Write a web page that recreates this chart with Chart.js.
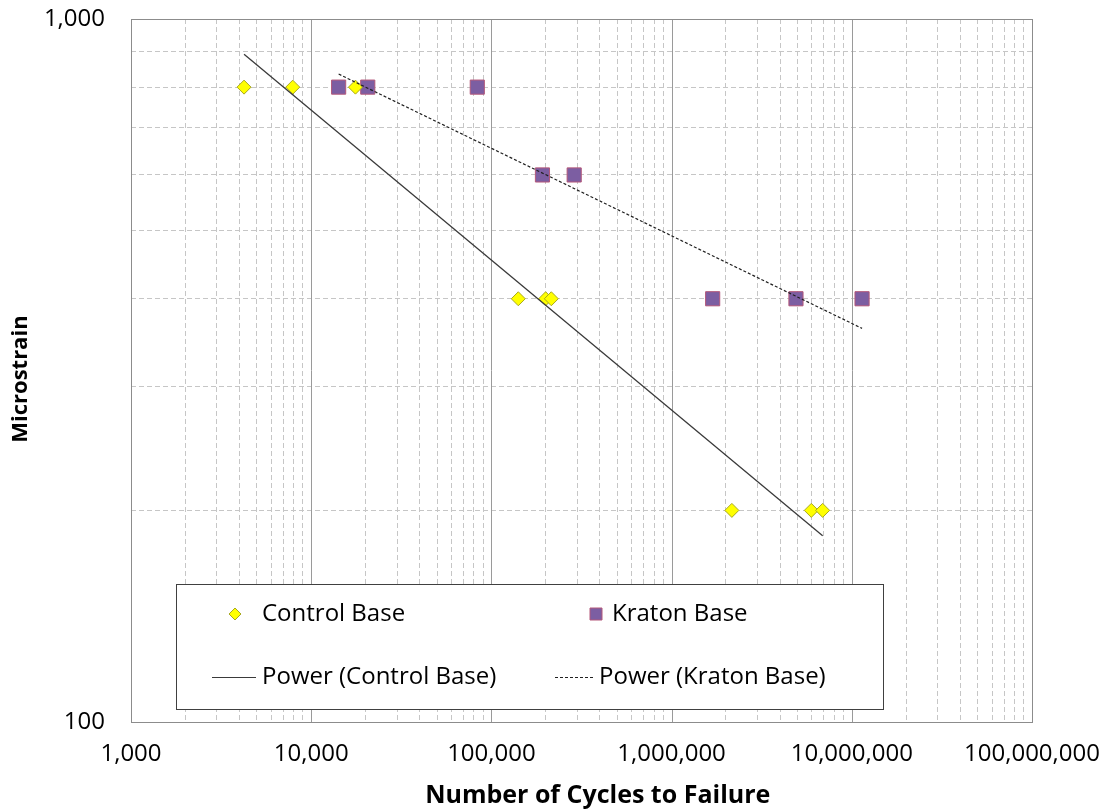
<!DOCTYPE html>
<html>
<head>
<meta charset="utf-8">
<script src="https://cdn.jsdelivr.net/npm/chart.js@4.4.1/dist/chart.umd.min.js"></script>
<style>
  html, body { margin: 0; padding: 0; background: #fff; }
  #wrap { width: 1105px; height: 811px; }
</style>
</head>
<body>
<div id="wrap"><canvas id="fatigueChart" width="1105" height="811"></canvas></div>
<script>
// Fatigue data (cycles, microstrain)
const controlCycles = [4240, 7900, 17600, 141000, 200000, 215000, 2160000, 5960000, 6890000];
const controlStrain = [800, 800, 800, 400, 400, 400, 200, 200, 200];

const kratonCycles = [14200, 20600, 83500, 192000, 288000, 1690000, 4900000, 11400000];
const kratonStrain = [800, 800, 800, 600, 600, 400, 400, 400];

// Power trendline endpoints as drawn in the chart
const controlFitCycles = [4240, 6890000];
const controlFitStrain = [891, 184];
const kratonFitCycles = [14200, 11400000];
const kratonFitStrain = [835, 363];

// Axis ranges / labelled decades
const xDecades = [1000, 10000, 100000, 1000000, 10000000, 100000000];
const yDecades = [100, 1000];

const FONT = "'Open Sans', 'Liberation Sans', sans-serif";

function toPoints(xs, ys) {
  return xs.map((x, i) => ({ x: x, y: ys[i] }));
}

// 1..9 x each decade, used for the minor grid
function logGridValues(decades) {
  const vals = [];
  for (let d = 0; d < decades.length - 1; d++) {
    for (let m = 1; m <= 9; m++) vals.push(decades[d] * m);
  }
  vals.push(decades[decades.length - 1]);
  return vals;
}

function isDecade(v) {
  const l = Math.log10(v);
  return Math.abs(l - Math.round(l)) < 1e-9;
}

const gridColor = (ctx) => (ctx.tick && isDecade(ctx.tick.value)) ? 'rgba(0,0,0,0)' : '#c6c6c6';

// solid decade lines + plot frame
const frameLines = {
  id: 'frameLines',
  beforeDatasetsDraw(chart) {
    const { ctx, chartArea: a, scales } = chart;
    ctx.save();
    ctx.strokeStyle = '#9a9a9a';
    ctx.lineWidth = 1;
    xDecades.forEach(v => {
      const px = Math.round(scales.x.getPixelForValue(v)) + 0.5;
      ctx.beginPath();
      ctx.moveTo(px, a.top);
      ctx.lineTo(px, a.bottom);
      ctx.stroke();
    });
    ctx.strokeStyle = '#8c8c8c';
    ctx.strokeRect(Math.round(a.left) + 0.5, Math.round(a.top) + 0.5,
      Math.round(a.right - a.left), Math.round(a.bottom - a.top));
    ctx.restore();
  }
};

// boxed legend sitting inside the plot, like the original
const boxLegend = {
  id: 'boxLegend',
  afterDatasetsDraw(chart) {
    const { ctx, chartArea: a } = chart;
    const ds = chart.data.datasets;
    const left = a.left + 45, top = a.bottom - 138, w = 707, h = 125;
    ctx.save();
    ctx.fillStyle = '#ffffff';
    ctx.fillRect(left, top, w, h);
    ctx.strokeStyle = '#404040';
    ctx.lineWidth = 1;
    ctx.strokeRect(left + 0.5, top + 0.5, w, h);

    ctx.font = '24px ' + FONT;
    ctx.fillStyle = '#000';
    ctx.textBaseline = 'middle';
    const row1 = top + 30, row2 = top + 93;
    const col1 = left, col2 = left + 360;

    const entries = [
      { d: ds[0], x: col1, y: row1 },
      { d: ds[1], x: col2, y: row1 },
      { d: ds[2], x: col1, y: row2 },
      { d: ds[3], x: col2, y: row2 }
    ];
    entries.forEach(e => {
      const d = e.d;
      if (d.showLine) {
        const dashed = !!d.borderDash;
        ctx.save();
        ctx.strokeStyle = d.borderColor;
        ctx.lineWidth = 1;
        ctx.setLineDash(d.borderDash || []);
        ctx.beginPath();
        ctx.moveTo(e.x + (dashed ? 19 : 36), e.y + 0.5);
        ctx.lineTo(e.x + (dashed ? 58 : 80), e.y + 0.5);
        ctx.stroke();
        ctx.restore();
        ctx.fillText(d.label, e.x + (dashed ? 63 : 86), e.y);
      } else {
        const isRect = d.pointStyle === 'rect';
        const cx = e.x + (isRect ? 60 : 59);
        ctx.save();
        ctx.fillStyle = d.backgroundColor;
        ctx.strokeStyle = d.borderColor;
        ctx.lineWidth = 1;
        ctx.beginPath();
        if (isRect) {
          const s = 6;
          ctx.rect(cx - s, e.y - s, 2 * s, 2 * s);
        } else {
          const r = 6;
          ctx.moveTo(cx, e.y - r);
          ctx.lineTo(cx + r, e.y);
          ctx.lineTo(cx, e.y + r);
          ctx.lineTo(cx - r, e.y);
          ctx.closePath();
        }
        ctx.fill();
        ctx.stroke();
        ctx.restore();
        ctx.fillText(d.label, e.x + (isRect ? 76 : 86), e.y);
      }
    });
    ctx.restore();
  }
};

const xGrid = logGridValues(xDecades);
const yGrid = logGridValues(yDecades);

new Chart(document.getElementById('fatigueChart'), {
  type: 'scatter',
  data: {
    datasets: [
      {
        label: 'Control Base',
        data: toPoints(controlCycles, controlStrain),
        pointStyle: 'rectRot',
        pointRadius: 7,
        backgroundColor: '#ffff00',
        borderColor: '#a8a820',
        borderWidth: 1,
        order: 1
      },
      {
        label: 'Kraton Base',
        data: toPoints(kratonCycles, kratonStrain),
        pointStyle: 'rect',
        pointRadius: 10,
        backgroundColor: '#7c5ea2',
        borderColor: '#b4587a',
        borderWidth: 1,
        order: 2
      },
      {
        label: 'Power (Control Base)',
        data: toPoints(controlFitCycles, controlFitStrain),
        showLine: true,
        pointRadius: 0,
        borderColor: '#3a3a3a',
        borderWidth: 1.3,
        order: 0
      },
      {
        label: 'Power (Kraton Base)',
        data: toPoints(kratonFitCycles, kratonFitStrain),
        showLine: true,
        pointRadius: 0,
        borderColor: '#202020',
        borderWidth: 1.2,
        borderDash: [3, 2],
        order: 0
      }
    ]
  },
  options: {
    responsive: false,
    animation: false,
    layout: { padding: { top: 19, right: 73, bottom: 0, left: 0 } },
    plugins: {
      legend: { display: false },
      tooltip: { enabled: false }
    },
    scales: {
      x: {
        type: 'logarithmic',
        min: 1000,
        max: 100000000,
        afterBuildTicks: (scale) => { scale.ticks = xGrid.map(v => ({ value: v })); },
        afterFit: (scale) => {
          scale.height = 89;
          scale.paddingLeft = 0;
          scale.paddingRight = 0;
        },
        grid: { color: gridColor, drawTicks: false, lineWidth: 1 },
        border: { display: false, dash: [5, 3] },
        ticks: {
          autoSkip: false,
          maxRotation: 0,
          padding: 18,
          color: '#000',
          font: { family: FONT, size: 24 },
          callback: (v) => isDecade(v) ? Number(v).toLocaleString('en-US') : ''
        },
        title: {
          display: true,
          // leading spaces nudge the title right, as in the original
          text: '\u00a0\u00a0\u00a0\u00a0\u00a0Number of Cycles to Failure',
          color: '#000',
          padding: { top: 0, bottom: 0 },
          font: { family: FONT, size: 25, weight: 'bold' }
        }
      },
      y: {
        type: 'logarithmic',
        min: 100,
        max: 1000,
        afterBuildTicks: (scale) => { scale.ticks = yGrid.map(v => ({ value: v })); },
        afterFit: (scale) => {
          scale.width = 131;
          scale.paddingTop = 0;
          scale.paddingBottom = 0;
        },
        grid: { color: gridColor, drawTicks: false, lineWidth: 1 },
        border: { display: false, dash: [5, 3] },
        ticks: {
          autoSkip: false,
          padding: 26,
          color: '#000',
          font: { family: FONT, size: 24 },
          callback: (v) => isDecade(v) ? Number(v).toLocaleString('en-US') : ''
        },
        title: {
          display: true,
          text: 'Microstrain\u00a0\u00a0\u00a0',
          color: '#000',
          padding: { top: 8, bottom: 0 },
          font: { family: FONT, size: 22, weight: 'bold' }
        }
      }
    }
  },
  plugins: [frameLines, boxLegend]
});
</script>
</body>
</html>
